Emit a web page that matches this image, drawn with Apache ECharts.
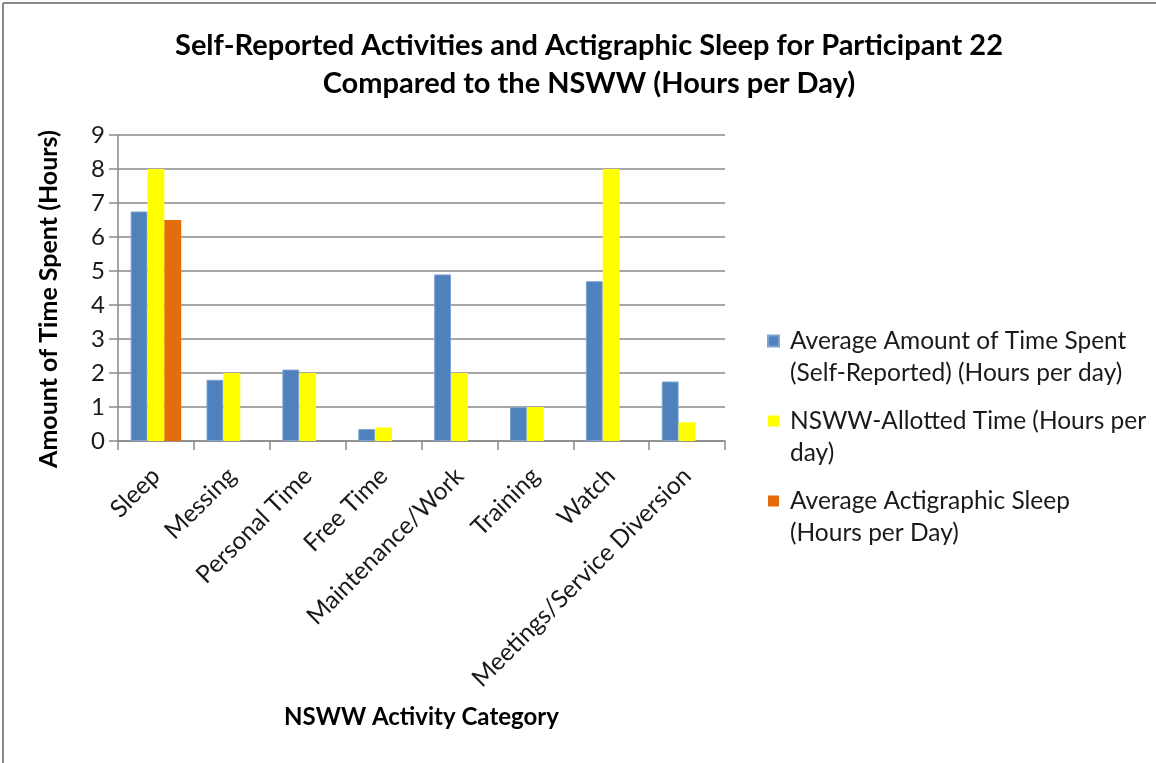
<!DOCTYPE html>
<html>
<head>
<meta charset="utf-8">
<script src="https://cdn.jsdelivr.net/npm/echarts@6/dist/echarts.min.js"></script>
<style>
  html, body { margin: 0; padding: 0; background: #fff; }
  #chart { width: 1156px; height: 763px; }
</style>
</head>
<body>
<div id="chart"></div>
<script>
const categories = ['Sleep', 'Messing', 'Personal Time', 'Free Time', 'Maintenance/Work', 'Training', 'Watch', 'Meetings/Service Diversion'];
const seriesNames = [
  'Average Amount of Time Spent (Self-Reported) (Hours per day)',
  'NSWW-Allotted Time (Hours per day)',
  'Average Actigraphic Sleep (Hours per Day)'
];
const legendLines = [
  'Average Amount of Time Spent\n(Self-Reported) (Hours per day)',
  'NSWW-Allotted Time (Hours per\nday)',
  'Average Actigraphic Sleep\n(Hours per Day)'
];
const selfReported = [6.75, 1.8, 2.1, 0.35, 4.9, 1.0, 4.7, 1.75];
const allotted = [8, 2, 2, 0.4, 2, 1, 8, 0.55];
const actigraphic = [6.5, null, null, null, null, null, null, null];
const yTicks = [0, 1, 2, 3, 4, 5, 6, 7, 8, 9];

const FONT = 'Lato';
const chart = echarts.init(document.getElementById('chart'));
chart.setOption({
  animation: false,
  backgroundColor: '#ffffff',
  title: {
    text: 'Self-Reported Activities and Actigraphic Sleep for Participant 22\nCompared to the NSWW (Hours per Day)',
    left: 584,
    textAlign: 'center',
    top: 22,
    textStyle: { fontFamily: FONT, fontWeight: 'bold', fontSize: 29, lineHeight: 38, color: '#000' }
  },
  legend: {
    orient: 'vertical',
    left: 762,
    top: 288,
    itemWidth: 11,
    itemHeight: 11,
    itemGap: -16,
    icon: 'rect',
    selectedMode: false,
    formatter: function (name) { return '\n' + legendLines[seriesNames.indexOf(name)]; },
    textStyle: { fontFamily: FONT, fontSize: 24.5, lineHeight: 32, color: '#1a1a1a', padding: [0, 0, 0, 6] },
    data: seriesNames
  },
  grid: { left: 118, right: 431, top: 135, bottom: 322, containLabel: false },
  xAxis: {
    type: 'category',
    data: categories,
    name: 'NSWW Activity Category',
    nameLocation: 'middle',
    nameGap: 264,
    nameTextStyle: { fontFamily: FONT, fontWeight: 'bold', fontSize: 24, color: '#000' },
    axisLine: { lineStyle: { color: '#8a8a8a', width: 1.5 } },
    axisTick: { show: true, length: 9, alignWithLabel: false, lineStyle: { color: '#8a8a8a', width: 1.5 } },
    axisLabel: { interval: 0, rotate: 45, margin: 31, fontFamily: FONT, fontSize: 24.5, color: '#1a1a1a' }
  },
  yAxis: {
    type: 'value',
    min: 0,
    max: 9,
    interval: 1,
    name: 'Amount of Time Spent (Hours)',
    nameLocation: 'middle',
    nameGap: 57,
    nameRotate: 90,
    nameTextStyle: { fontFamily: FONT, fontWeight: 'bold', fontSize: 25, color: '#000', padding: [0, 22, 0, 0] },
    axisLine: { show: true, lineStyle: { color: '#8a8a8a', width: 1.5 } },
    axisTick: { show: true, length: 9, lineStyle: { color: '#8a8a8a', width: 1.5 } },
    splitLine: { show: true, lineStyle: { color: '#8a8a8a', width: 1.5 } },
    axisLabel: {
      margin: 13, fontFamily: FONT, fontSize: 24, color: '#1a1a1a',
      formatter: function (v) { return yTicks.indexOf(v) >= 0 ? String(v) : ''; }
    }
  },
  series: [
    { name: seriesNames[0], type: 'bar', data: selfReported, barGap: '0%', barCategoryGap: '33.3%',
      itemStyle: { color: '#4F81BD', borderColor: '#7fa3d0', borderWidth: 1 } },
    { name: seriesNames[1], type: 'bar', data: allotted, barGap: '0%', barCategoryGap: '33.3%',
      itemStyle: { color: '#FFFF00' } },
    { name: seriesNames[2], type: 'bar', data: actigraphic, barGap: '0%', barCategoryGap: '33.3%',
      itemStyle: { color: '#E46C0A' } }
  ],
  graphic: [
    { type: 'line', shape: { x1: 3, y1: 3, x2: 3, y2: 763 }, style: { stroke: '#8a8a8a', lineWidth: 2 }, silent: true },
    { type: 'line', shape: { x1: 3, y1: 3, x2: 1156, y2: 3 }, style: { stroke: '#8a8a8a', lineWidth: 2 }, silent: true }
  ]
});
</script>
</body>
</html>
